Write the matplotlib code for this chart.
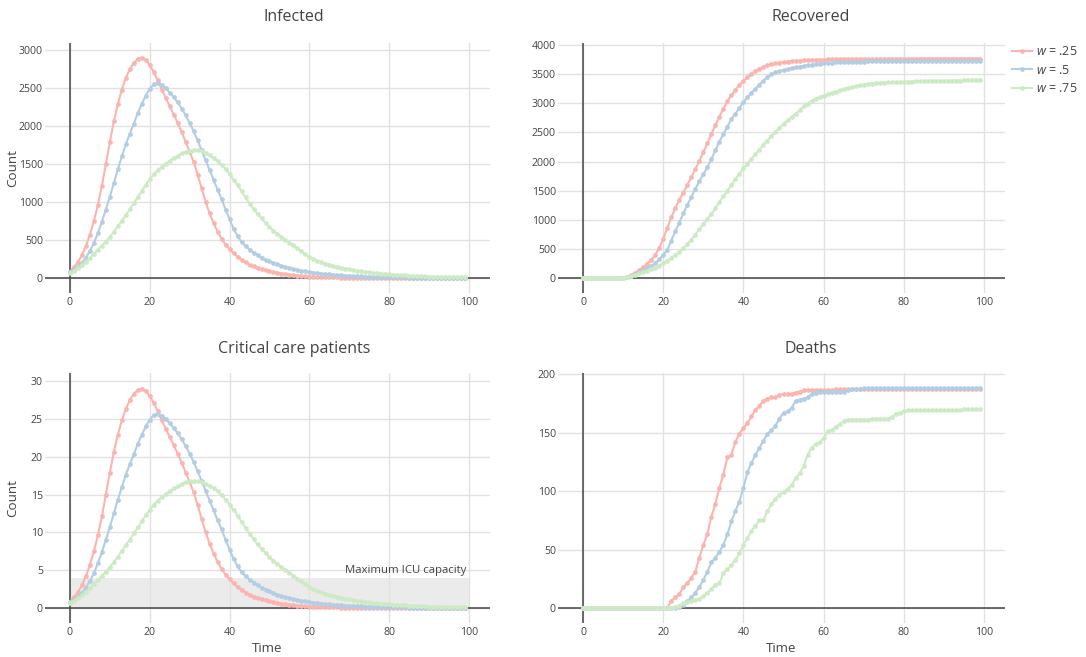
import matplotlib
matplotlib.use("Agg")
import matplotlib.pyplot as plt
from matplotlib.lines import Line2D

plt.rcParams['font.family'] = ['Open Sans', 'DejaVu Sans']
plt.rcParams['mathtext.fontset'] = 'custom'
plt.rcParams['mathtext.it'] = 'Open Sans:italic'
plt.rcParams['mathtext.rm'] = 'Open Sans'

# data
time = list(range(100))
labels = [r'$w$ = .25', r'$w$ = .5', r'$w$ = .75']
colors = ['#fbb4ae', '#b3cde3', '#ccebc5']
icu_capacity = 4

infected_25 = [85, 140, 210, 300, 420, 570, 750, 960, 1210, 1500,
               1790, 2060, 2290, 2480, 2630, 2750, 2830, 2880, 2900, 2870,
               2800, 2710, 2600, 2480, 2370, 2260, 2150, 2040, 1920, 1790,
               1660, 1530, 1360, 1180, 1000, 850, 720, 610, 515, 440,
               380, 325, 280, 240, 205, 175, 152, 132, 116, 102,
               90, 78, 68, 59, 51, 44, 38, 33, 28, 24,
               20, 17, 15, 13, 11, 9, 8, 7, 6, 5,
               4, 4, 3, 3, 2, 2, 2, 1, 1, 1,
               1, 1, 1, 1, 1, 1, 0, 0, 0, 0,
               0, 0, 0, 0, 0, 0, 0, 0, 0, 0]
infected_50 = [80, 110, 150, 200, 270, 360, 460, 590, 740, 900,
               1070, 1250, 1430, 1600, 1760, 1900, 2030, 2170, 2290, 2400,
               2490, 2550, 2565, 2540, 2495, 2440, 2380, 2310, 2230, 2140,
               2040, 1930, 1810, 1680, 1550, 1420, 1290, 1160, 1040, 900,
               770, 650, 550, 475, 420, 375, 335, 300, 270, 243,
               220, 198, 178, 160, 145, 131, 118, 107, 97, 88,
               80, 72, 65, 59, 53, 48, 44, 40, 36, 33,
               30, 27, 24, 22, 20, 18, 16, 15, 13, 12,
               11, 10, 9, 8, 7, 6, 6, 5, 5, 4,
               4, 3, 3, 3, 2, 2, 2, 2, 1, 1]
infected_75 = [65, 95, 130, 170, 215, 265, 320, 375, 425, 480,
               540, 610, 680, 755, 830, 905, 985, 1065, 1145, 1225,
               1300, 1365, 1420, 1465, 1505, 1545, 1580, 1610, 1640, 1660,
               1675, 1680, 1678, 1665, 1645, 1615, 1580, 1540, 1490, 1430,
               1365, 1295, 1220, 1140, 1060, 980, 910, 845, 785, 725,
               670, 625, 582, 542, 503, 465, 428, 390, 352, 312,
               272, 248, 227, 207, 190, 174, 160, 147, 135, 124,
               113, 104, 96, 88, 81, 75, 69, 63, 58, 53,
               48, 44, 40, 37, 34, 31, 28, 26, 24, 22,
               20, 18, 16, 15, 13, 12, 11, 10, 9, 8]

recovered_25 = [0, 0, 0, 0, 0, 0, 0, 0, 0, 0,
                5, 25, 55, 90, 135, 188, 245, 313, 400, 512,
                670, 860, 1040, 1200, 1340, 1465, 1595, 1730, 1865, 2010,
                2160, 2310, 2470, 2620, 2770, 2905, 3030, 3135, 3230, 3315,
                3385, 3445, 3500, 3545, 3585, 3620, 3648, 3670, 3687, 3698,
                3707, 3715, 3722, 3728, 3733, 3737, 3740, 3743, 3746, 3748,
                3750, 3752, 3753, 3754, 3755, 3756, 3757, 3758, 3759, 3759,
                3760, 3761, 3761, 3762, 3762, 3763, 3763, 3764, 3764, 3764,
                3765, 3765, 3765, 3765, 3766, 3766, 3766, 3766, 3766, 3766,
                3767, 3767, 3767, 3767, 3767, 3767, 3767, 3767, 3767, 3767]
recovered_50 = [0, 0, 0, 0, 0, 0, 0, 0, 0, 0,
                3, 18, 40, 68, 98, 130, 165, 205, 255, 320,
                400, 480, 640, 800, 950, 1110, 1250, 1390, 1530, 1660,
                1780, 1900, 2040, 2190, 2340, 2470, 2600, 2730, 2820, 2920,
                3020, 3100, 3180, 3250, 3320, 3390, 3450, 3500, 3530, 3552,
                3570, 3587, 3602, 3615, 3627, 3638, 3648, 3660, 3670, 3679,
                3687, 3692, 3696, 3700, 3703, 3706, 3709, 3711, 3713, 3715,
                3716, 3717, 3718, 3719, 3720, 3721, 3722, 3723, 3724, 3725,
                3726, 3727, 3727, 3728, 3728, 3729, 3729, 3729, 3730, 3730,
                3730, 3731, 3731, 3731, 3732, 3732, 3732, 3733, 3733, 3733]
recovered_75 = [0, 0, 0, 0, 0, 0, 0, 0, 0, 0,
                3, 18, 38, 58, 78, 100, 125, 152, 180, 215,
                255, 300, 345, 395, 450, 510, 580, 660, 745, 835,
                925, 1015, 1105, 1200, 1300, 1400, 1500, 1600, 1695, 1790,
                1880, 1965, 2045, 2125, 2205, 2285, 2360, 2435, 2510, 2580,
                2645, 2705, 2765, 2820, 2880, 2945, 2995, 3040, 3075, 3105,
                3130, 3155, 3178, 3200, 3220, 3240, 3257, 3272, 3288, 3305,
                3320, 3330, 3338, 3344, 3349, 3353, 3357, 3360, 3363, 3366,
                3368, 3370, 3372, 3374, 3376, 3378, 3380, 3381, 3382, 3383,
                3385, 3386, 3388, 3389, 3390, 3392, 3393, 3394, 3396, 3397]

critical_25 = [0.85, 1.4, 2.1, 3.0, 4.2, 5.7, 7.5, 9.6, 12.1, 15.0,
               17.9, 20.6, 22.9, 24.8, 26.3, 27.5, 28.3, 28.8, 29.0, 28.7,
               28.0, 27.1, 26.0, 24.8, 23.7, 22.6, 21.5, 20.4, 19.2, 17.9,
               16.6, 15.3, 13.6, 11.8, 10.0, 8.5, 7.2, 6.1, 5.15, 4.4,
               3.8, 3.25, 2.8, 2.4, 2.05, 1.75, 1.52, 1.32, 1.16, 1.02,
               0.9, 0.78, 0.68, 0.59, 0.51, 0.44, 0.38, 0.33, 0.28, 0.24,
               0.2, 0.17, 0.15, 0.13, 0.11, 0.09, 0.08, 0.07, 0.06, 0.05,
               0.04, 0.04, 0.03, 0.03, 0.02, 0.02, 0.02, 0.01, 0.01, 0.01,
               0.01, 0.01, 0.01, 0.01, 0.01, 0.01, 0, 0, 0, 0,
               0, 0, 0, 0, 0, 0, 0, 0, 0, 0]
critical_50 = [0.8, 1.1, 1.5, 2.0, 2.7, 3.6, 4.6, 5.9, 7.4, 9.0,
               10.7, 12.5, 14.3, 16.0, 17.6, 19.0, 20.3, 21.7, 22.9, 24.0,
               24.9, 25.5, 25.65, 25.4, 24.95, 24.4, 23.8, 23.1, 22.3, 21.4,
               20.4, 19.3, 18.1, 16.8, 15.5, 14.2, 12.9, 11.6, 10.4, 9.0,
               7.7, 6.5, 5.5, 4.75, 4.2, 3.75, 3.35, 3.0, 2.7, 2.43,
               2.2, 1.98, 1.78, 1.6, 1.45, 1.31, 1.18, 1.07, 0.97, 0.88,
               0.8, 0.72, 0.65, 0.59, 0.53, 0.48, 0.44, 0.4, 0.36, 0.33,
               0.3, 0.27, 0.24, 0.22, 0.2, 0.18, 0.16, 0.15, 0.13, 0.12,
               0.11, 0.1, 0.09, 0.08, 0.07, 0.06, 0.06, 0.05, 0.05, 0.04,
               0.04, 0.03, 0.03, 0.03, 0.02, 0.02, 0.02, 0.02, 0.01, 0.01]
critical_75 = [0.65, 0.95, 1.3, 1.7, 2.15, 2.65, 3.2, 3.75, 4.25, 4.8,
               5.4, 6.1, 6.8, 7.55, 8.3, 9.05, 9.85, 10.65, 11.45, 12.25,
               13.0, 13.65, 14.2, 14.65, 15.05, 15.45, 15.8, 16.1, 16.4, 16.6,
               16.75, 16.8, 16.78, 16.65, 16.45, 16.15, 15.8, 15.4, 14.9, 14.3,
               13.65, 12.95, 12.2, 11.4, 10.6, 9.8, 9.1, 8.45, 7.85, 7.25,
               6.7, 6.25, 5.82, 5.42, 5.03, 4.65, 4.28, 3.9, 3.52, 3.12,
               2.72, 2.48, 2.27, 2.07, 1.9, 1.74, 1.6, 1.47, 1.35, 1.24,
               1.13, 1.04, 0.96, 0.88, 0.81, 0.75, 0.69, 0.63, 0.58, 0.53,
               0.48, 0.44, 0.4, 0.37, 0.34, 0.31, 0.28, 0.26, 0.24, 0.22,
               0.2, 0.18, 0.16, 0.15, 0.13, 0.12, 0.11, 0.1, 0.09, 0.08]

deaths_25 = [0, 0, 0, 0, 0, 0, 0, 0, 0, 0,
             0, 0, 0, 0, 0, 0, 0, 0, 0, 0,
             0, 0, 6, 9, 12, 18, 21, 26, 31, 43,
             54, 63, 78, 89, 103, 114, 129, 131, 142, 149,
             154, 158, 164, 169, 173, 177, 179, 180, 180, 182,
             183, 183, 183, 184, 185, 186, 186, 186, 186, 186,
             186, 186, 186, 187, 187, 187, 187, 187, 187, 187,
             187, 187, 187, 187, 187, 187, 187, 187, 187, 187,
             187, 187, 187, 187, 187, 187, 187, 187, 187, 187,
             187, 187, 187, 187, 187, 187, 187, 187, 187, 187]
deaths_50 = [0, 0, 0, 0, 0, 0, 0, 0, 0, 0,
             0, 0, 0, 0, 0, 0, 0, 0, 0, 0,
             0, 0, 0, 0, 1, 3, 6, 9, 13, 18,
             24, 31, 39, 43, 48, 54, 63, 74, 83, 91,
             103, 116, 124, 131, 137, 143, 149, 152, 156, 162,
             167, 168, 171, 177, 178, 179, 180, 183, 184, 185,
             185, 185, 185, 185, 185, 185, 186, 187, 187, 187,
             188, 188, 188, 188, 188, 188, 188, 188, 188, 188,
             188, 188, 188, 188, 188, 188, 188, 188, 188, 188,
             188, 188, 188, 188, 188, 188, 188, 188, 188, 188]
deaths_75 = [0, 0, 0, 0, 0, 0, 0, 0, 0, 0,
             0, 0, 0, 0, 0, 0, 0, 0, 0, 0,
             0, 0, 0, 1, 2, 4, 5, 6, 7, 8,
             10, 13, 16, 20, 21, 30, 33, 37, 41, 47,
             54, 60, 66, 70, 75, 75, 83, 89, 93, 97,
             99, 102, 105, 111, 115, 121, 131, 137, 140, 142,
             145, 151, 152, 155, 157, 160, 161, 161, 161, 161,
             161, 161, 162, 162, 162, 162, 162, 163, 166, 167,
             168, 169, 169, 169, 169, 169, 169, 169, 169, 169,
             169, 169, 169, 169, 169, 170, 170, 170, 170, 170]

W, H = 1086, 657
TEXT = '#444444'

fig = plt.figure(figsize=(W / 100, H / 100), dpi=100)


def px_axes(x0, x1, y0, y1):
    return fig.add_axes([x0 / W, 1 - y1 / H, (x1 - x0) / W, (y1 - y0) / H])


panels = [
    (px_axes(45, 490, 43, 293), [infected_25, infected_50, infected_75],
     (-197, 3092), [0, 500, 1000, 1500, 2000, 2500, 3000]),
    (px_axes(558, 1005, 43, 293), [recovered_25, recovered_50, recovered_75],
     (-257, 4034), [0, 500, 1000, 1500, 2000, 2500, 3000, 3500, 4000]),
    (px_axes(45, 490, 373, 623), [critical_25, critical_50, critical_75],
     (-1.98, 31.06), [0, 5, 10, 15, 20, 25, 30]),
    (px_axes(558, 1005, 373, 623), [deaths_25, deaths_50, deaths_75],
     (-12.8, 200.9), [0, 50, 100, 150, 200]),
]

for ax, series, ylim, yticks in panels:
    for values, color in zip(series, colors):
        ax.plot(time, values, color=color, lw=1.5, marker='o', ms=3.4,
                mew=0, zorder=3)
    ax.set_xlim(-6.25, 105.25)
    ax.set_ylim(*ylim)
    ax.set_xticks([0, 20, 40, 60, 80, 100])
    ax.set_yticks(yticks)
    ax.set_axisbelow(True)
    ax.grid(True, color='#e1e1e1', lw=1.0)
    ax.axhline(0, color='#444444', lw=1.1, zorder=2)
    ax.axvline(0, color='#444444', lw=1.1, zorder=2)
    for side in ax.spines.values():
        side.set_visible(False)
    ax.tick_params(length=0, labelsize=7.6, labelcolor=TEXT)
    ax.tick_params(axis='y', pad=1.5)
    ax.tick_params(axis='x', pad=3)

# ICU capacity band
icu_ax = panels[2][0]
icu_ax.fill_between([0, 100], 0, icu_capacity, color='#ebebeb', lw=0, zorder=0.2)
icu_ax.text(99.3, icu_capacity + 0.9, 'Maximum ICU capacity', ha='right',
            va='center', fontsize=8.2, color=TEXT, zorder=4)

# titles
fig.text(294 / W, 1 - 17 / H, 'Infected', ha='center', va='center', fontsize=11.5, color=TEXT)
fig.text(811 / W, 1 - 17 / H, 'Recovered', ha='center', va='center', fontsize=11.5, color=TEXT)
fig.text(294 / W, 1 - 349 / H, 'Critical care patients', ha='center', va='center', fontsize=11.5, color=TEXT)
fig.text(811 / W, 1 - 349 / H, 'Deaths', ha='center', va='center', fontsize=11.5, color=TEXT)

fig.text(13 / W, 1 - 168 / H, 'Count', rotation=90, ha='center', va='center', fontsize=9.6, color=TEXT)
fig.text(13 / W, 1 - 498 / H, 'Count', rotation=90, ha='center', va='center', fontsize=9.6, color=TEXT)
fig.text(267 / W, 1 - 648 / H, 'Time', ha='center', va='center', fontsize=9.6, color=TEXT)
fig.text(781 / W, 1 - 648 / H, 'Time', ha='center', va='center', fontsize=9.6, color=TEXT)

handles = [Line2D([], [], color=c, lw=1.5, marker='o', ms=3.4, mew=0) for c in colors]
fig.legend(handles, labels, loc='upper left', bbox_to_anchor=(1012 / W, 1 - 45 / H),
           frameon=False, fontsize=9, labelcolor=TEXT, handlelength=1.6,
           handletextpad=0.3, labelspacing=0.45, borderaxespad=0, borderpad=0)

fig.savefig('out.png', dpi=100)
